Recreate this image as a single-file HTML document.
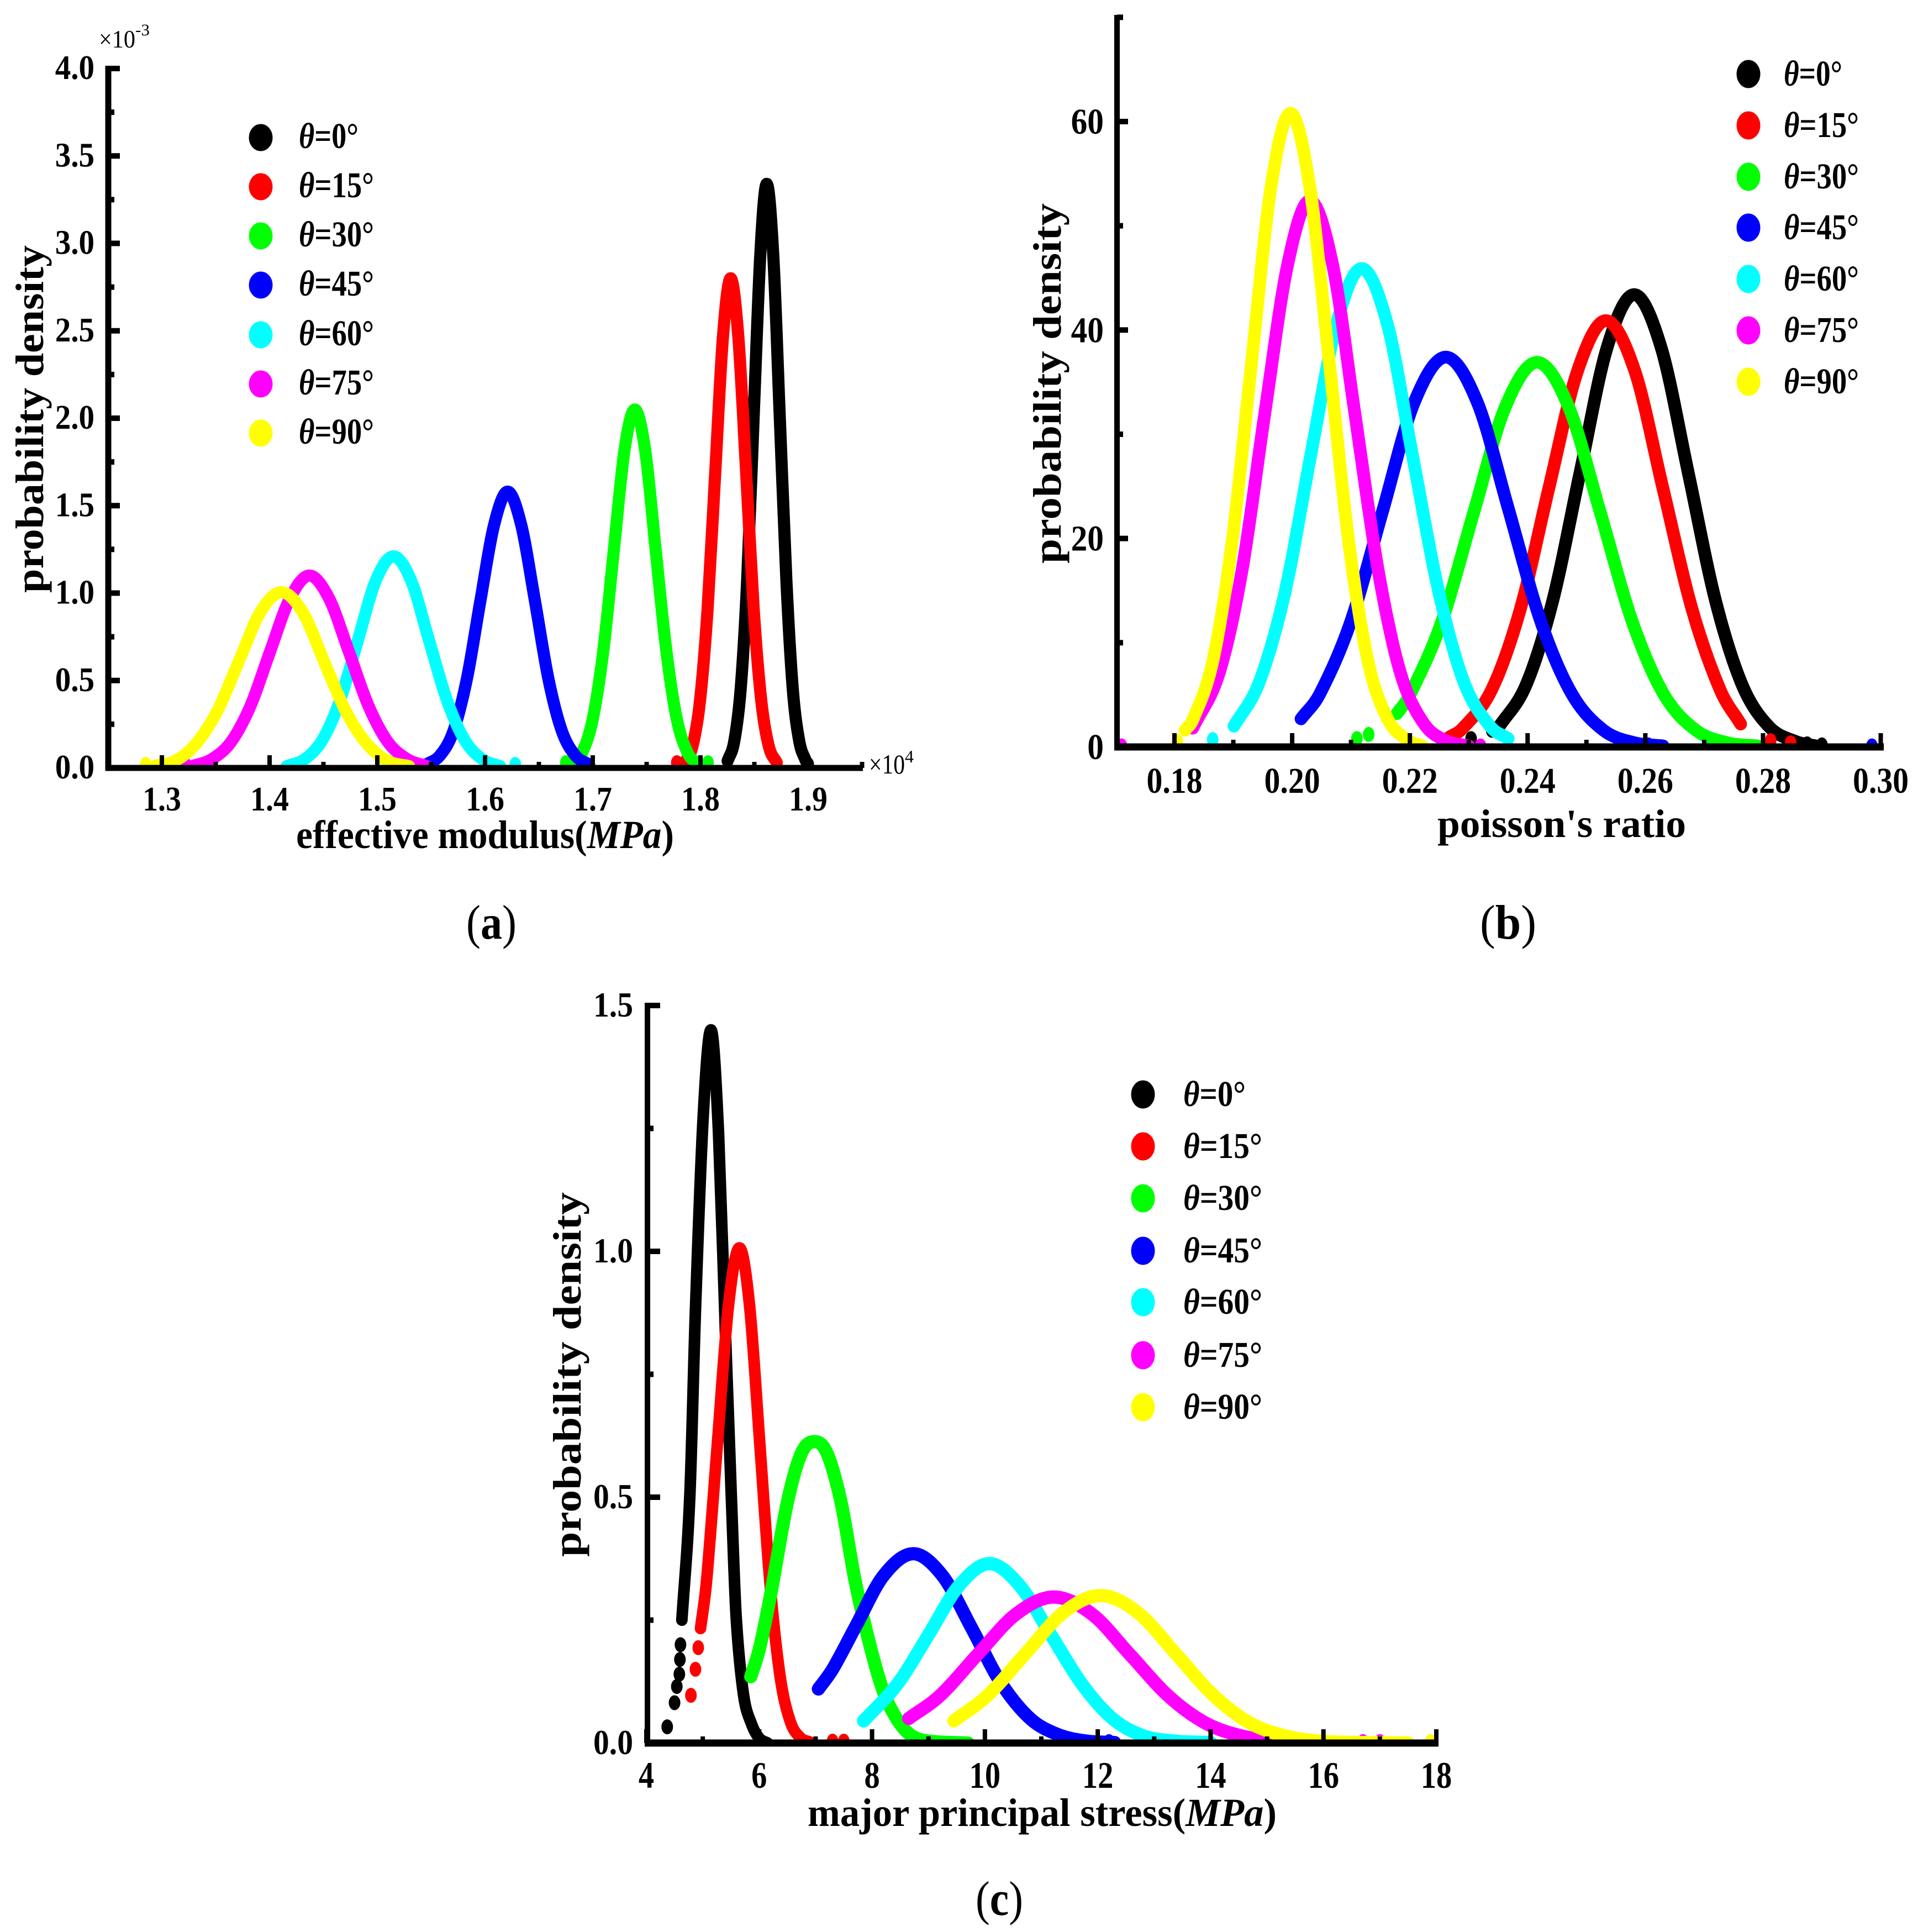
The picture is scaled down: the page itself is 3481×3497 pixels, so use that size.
<!DOCTYPE html>
<html lang="en">
<head>
<meta charset="utf-8">
<title>Probability density curves</title>
<style>
html,body{margin:0;padding:0;background:#fff;}
svg{display:block;font-family:"Liberation Serif",serif;}
text{fill:#000;font-weight:bold;}
.curve{fill:none;stroke-linejoin:round;stroke-linecap:round;}
#panel-a .curve{stroke-width:22;}
#panel-b .curve{stroke-width:23;}
#panel-c .curve{stroke-width:24;}
#panel-c .curve.theta-0,#panel-c .curve.theta-15{stroke-width:21;}
.tail-dot{stroke:none;}
.theta-0{stroke:#000;color:#000;}
.theta-15{stroke:#f00;color:#f00;}
.theta-30{stroke:#0f0;color:#0f0;}
.theta-45{stroke:#00f;color:#00f;}
.theta-60{stroke:#0ff;color:#0ff;}
.theta-75{stroke:#f0f;color:#f0f;}
.theta-90{stroke:#ff0;color:#ff0;}
.tail-dot{fill:currentColor;}
.axis{fill:#000;stroke:none;}
.leg{font-size:66px;transform:translateY(-3px);}
.ti{font-style:italic;}
.axt{font-size:72px;}
.cap{font-size:88px;font-weight:normal;}
.cap tspan{font-weight:bold;}
.sci{font-weight:normal;}
</style>
</head>
<body>
<svg id="figure" xmlns="http://www.w3.org/2000/svg" width="3481" height="3497" viewBox="0 0 3481 3497">
<defs>
<clipPath id="clip-a"><rect x="190" y="0" width="1400" height="1394"/></clipPath>
<clipPath id="clip-b"><rect x="2015" y="0" width="1400" height="1356"/></clipPath>
<clipPath id="clip-c"><rect x="1165" y="1700" width="1445" height="1459"/></clipPath>
</defs>
<rect width="3481" height="3497" fill="#fff"/>
<g id="panel-a"></g>
<g id="panel-b"></g>
<g id="panel-c"></g>

<!-- panel a text -->
<text class="axt" transform="translate(78,1073) rotate(-90)" textLength="629" lengthAdjust="spacingAndGlyphs">probability density</text>
<text class="axt" x="536" y="1535" textLength="684" lengthAdjust="spacingAndGlyphs">effective modulus(<tspan class="ti">MPa</tspan>)</text>
<text class="sci" x="179" y="86" font-size="46" textLength="66" lengthAdjust="spacingAndGlyphs">×10</text>
<text class="sci" x="245" y="64" font-size="30" textLength="26" lengthAdjust="spacingAndGlyphs">-3</text>
<text class="sci" x="1573" y="1400" font-size="50" textLength="65" lengthAdjust="spacingAndGlyphs">×10</text>
<text class="sci" x="1638" y="1380" font-size="32" textLength="16" lengthAdjust="spacingAndGlyphs">4</text>
<text class="cap" x="844" y="1699" textLength="91" lengthAdjust="spacingAndGlyphs">(<tspan>a</tspan>)</text>

<g>
<g><ellipse class="tail-dot theta-0" cx="472" cy="249" rx="21" ry="24"/><text class="leg" x="541" y="271" textLength="108" lengthAdjust="spacingAndGlyphs"><tspan class="ti">θ</tspan>=0°</text></g>
<g><ellipse class="tail-dot theta-15" cx="472" cy="338" rx="21" ry="24"/><text class="leg" x="541" y="360" textLength="136" lengthAdjust="spacingAndGlyphs"><tspan class="ti">θ</tspan>=15°</text></g>
<g><ellipse class="tail-dot theta-30" cx="472" cy="427" rx="21" ry="24"/><text class="leg" x="541" y="449" textLength="136" lengthAdjust="spacingAndGlyphs"><tspan class="ti">θ</tspan>=30°</text></g>
<g><ellipse class="tail-dot theta-45" cx="472" cy="516" rx="21" ry="24"/><text class="leg" x="541" y="538" textLength="136" lengthAdjust="spacingAndGlyphs"><tspan class="ti">θ</tspan>=45°</text></g>
<g><ellipse class="tail-dot theta-60" cx="472" cy="606" rx="21" ry="24"/><text class="leg" x="541" y="628" textLength="136" lengthAdjust="spacingAndGlyphs"><tspan class="ti">θ</tspan>=60°</text></g>
<g><ellipse class="tail-dot theta-75" cx="472" cy="695" rx="21" ry="24"/><text class="leg" x="541" y="717" textLength="136" lengthAdjust="spacingAndGlyphs"><tspan class="ti">θ</tspan>=75°</text></g>
<g><ellipse class="tail-dot theta-90" cx="472" cy="784" rx="21" ry="24"/><text class="leg" x="541" y="806" textLength="136" lengthAdjust="spacingAndGlyphs"><tspan class="ti">θ</tspan>=90°</text></g>
</g>

<!-- panel b text -->
<text class="axt" transform="translate(1920,1020) rotate(-90)" textLength="652" lengthAdjust="spacingAndGlyphs">probability density</text>
<text class="axt" x="2602" y="1515" textLength="450" lengthAdjust="spacingAndGlyphs">poisson's ratio</text>
<text class="cap" x="2679" y="1699" textLength="102" lengthAdjust="spacingAndGlyphs">(<tspan>b</tspan>)</text>

<g>
<g><ellipse class="tail-dot theta-0" cx="3165" cy="134" rx="21" ry="25"/><text class="leg" x="3229" y="158" textLength="106" lengthAdjust="spacingAndGlyphs"><tspan class="ti">θ</tspan>=0°</text></g>
<g><ellipse class="tail-dot theta-15" cx="3165" cy="227" rx="21" ry="25"/><text class="leg" x="3229" y="251" textLength="136" lengthAdjust="spacingAndGlyphs"><tspan class="ti">θ</tspan>=15°</text></g>
<g><ellipse class="tail-dot theta-30" cx="3165" cy="320" rx="21" ry="25"/><text class="leg" x="3229" y="344" textLength="136" lengthAdjust="spacingAndGlyphs"><tspan class="ti">θ</tspan>=30°</text></g>
<g><ellipse class="tail-dot theta-45" cx="3165" cy="412" rx="21" ry="25"/><text class="leg" x="3229" y="436" textLength="136" lengthAdjust="spacingAndGlyphs"><tspan class="ti">θ</tspan>=45°</text></g>
<g><ellipse class="tail-dot theta-60" cx="3165" cy="505" rx="21" ry="25"/><text class="leg" x="3229" y="529" textLength="136" lengthAdjust="spacingAndGlyphs"><tspan class="ti">θ</tspan>=60°</text></g>
<g><ellipse class="tail-dot theta-75" cx="3165" cy="598" rx="21" ry="25"/><text class="leg" x="3229" y="622" textLength="136" lengthAdjust="spacingAndGlyphs"><tspan class="ti">θ</tspan>=75°</text></g>
<g><ellipse class="tail-dot theta-90" cx="3165" cy="691" rx="21" ry="25"/><text class="leg" x="3229" y="715" textLength="136" lengthAdjust="spacingAndGlyphs"><tspan class="ti">θ</tspan>=90°</text></g>
</g>

<!-- panel c text -->
<text class="axt" transform="translate(1051,2818) rotate(-90)" textLength="660" lengthAdjust="spacingAndGlyphs">probability density</text>
<text class="axt" x="1462" y="3305" textLength="849" lengthAdjust="spacingAndGlyphs">major principal stress(<tspan class="ti">MPa</tspan>)</text>
<text class="cap" x="1766" y="3466" textLength="86" lengthAdjust="spacingAndGlyphs">(<tspan>c</tspan>)</text>

<g>
<g><ellipse class="tail-dot theta-0" cx="2069" cy="1981" rx="21" ry="25"/><text class="leg" x="2142" y="2005" textLength="113" lengthAdjust="spacingAndGlyphs"><tspan class="ti">θ</tspan>=0°</text></g>
<g><ellipse class="tail-dot theta-15" cx="2069" cy="2075" rx="21" ry="25"/><text class="leg" x="2142" y="2099" textLength="143" lengthAdjust="spacingAndGlyphs"><tspan class="ti">θ</tspan>=15°</text></g>
<g><ellipse class="tail-dot theta-30" cx="2069" cy="2169" rx="21" ry="25"/><text class="leg" x="2142" y="2193" textLength="143" lengthAdjust="spacingAndGlyphs"><tspan class="ti">θ</tspan>=30°</text></g>
<g><ellipse class="tail-dot theta-45" cx="2069" cy="2264" rx="21" ry="25"/><text class="leg" x="2142" y="2288" textLength="143" lengthAdjust="spacingAndGlyphs"><tspan class="ti">θ</tspan>=45°</text></g>
<g><ellipse class="tail-dot theta-60" cx="2069" cy="2357" rx="21" ry="25"/><text class="leg" x="2142" y="2381" textLength="143" lengthAdjust="spacingAndGlyphs"><tspan class="ti">θ</tspan>=60°</text></g>
<g><ellipse class="tail-dot theta-75" cx="2069" cy="2453" rx="21" ry="25"/><text class="leg" x="2142" y="2477" textLength="143" lengthAdjust="spacingAndGlyphs"><tspan class="ti">θ</tspan>=75°</text></g>
<g><ellipse class="tail-dot theta-90" cx="2069" cy="2547" rx="21" ry="25"/><text class="leg" x="2142" y="2571" textLength="143" lengthAdjust="spacingAndGlyphs"><tspan class="ti">θ</tspan>=90°</text></g>
</g>
</svg>

<script>
// categories
const seriesKeys = ['theta-0','theta-15','theta-30','theta-45','theta-60','theta-75','theta-90'];

// ---- panel (a): effective modulus (x in 1e4 MPa, y in 1e-3) ----
const aX0 = [1.8252,1.8313,1.8373,1.8434,1.8494,1.8555,1.8615,1.8676,1.8736,1.8797,1.8857,1.8918,1.8978];
const aY0 = [.04,.15,.45,1.08,2.01,2.93,3.34,2.93,2.01,1.08,.45,.15,.04];
const aX1 = [1.7853,1.7924,1.7995,1.8066,1.8138,1.8209,1.828,1.8351,1.8423,1.8494,1.8565,1.8636,1.8708];
const aY1 = [.03,.12,.38,.91,1.70,2.47,2.80,2.47,1.70,.91,.38,.12,.03];
const aX2 = [1.6805,1.6903,1.70,1.7098,1.7195,1.7293,1.739,1.7488,1.7585,1.7683,1.778,1.7878,1.7975];
const aY2 = [.02,.09,.28,.67,1.24,1.81,2.05,1.81,1.24,.67,.28,.09,.02];
const aX3 = [1.5454,1.558,1.5706,1.5832,1.5958,1.6084,1.621,1.6336,1.6462,1.6588,1.6714,1.684,1.6966];
const aY3 = [.02,.07,.21,.51,.96,1.39,1.58,1.39,.96,.51,.21,.07,.02];
const aX4 = [1.416,1.4325,1.449,1.4655,1.482,1.4985,1.515,1.5315,1.548,1.5645,1.581,1.5975,1.614];
const aY4 = [.01,.05,.16,.39,.73,1.07,1.21,1.07,.73,.39,.16,.05,.01];
const aX5 = [1.3281,1.3463,1.3644,1.3826,1.4007,1.4189,1.437,1.4552,1.4733,1.4915,1.5096,1.5278,1.5459];
const aY5 = [.01,.05,.15,.36,.67,.97,1.10,.97,.67,.36,.15,.05,.01];
const aX6 = [1.2925,1.3123,1.332,1.3518,1.3715,1.3913,1.411,1.4308,1.4505,1.4703,1.49,1.5098,1.5295];
const aY6 = [.01,.04,.14,.33,.61,.89,1.005,.89,.61,.33,.14,.04,.01];
const aTailX = [[1.9],[1.778],[1.675,1.807],[],[1.628],[1.322],[1.285]];
const aTailY = [[.02],[.03],[.03,.03],[],[.02],[.02],[.02]];
const aXMajor = [1.3,1.4,1.5,1.6,1.7,1.8,1.9];
const aXMajorLabels = ['1.3','1.4','1.5','1.6','1.7','1.8','1.9'];
const aXMinor = [1.35,1.45,1.55,1.65,1.75,1.85,1.95];
const aYMajor = [0,.5,1,1.5,2,2.5,3,3.5,4];
const aYMajorLabels = ['0.0','0.5','1.0','1.5','2.0','2.5','3.0','3.5','4.0'];
const aYMinor = [.25,.75,1.25,1.75,2.25,2.75,3.25,3.75];

// ---- panel (b): poisson's ratio ----
const bX0 = [.2351,.2397,.2443,.2489,.2535,.2581,.2627,.2673,.2719,.2765,.2811,.2857,.289];
const bY0 = [1.9,5.9,14.1,26.3,38.3,43.4,38.3,26.3,14.1,5.9,1.9,.5,.1];
const bX1 = [.2266,.229,.2339,.2388,.2436,.2485,.2533,.2582,.263,.2679,.2727,.2762];
const bY1 = [.9,1.8,5.5,13.3,24.8,36.1,40.9,36.1,24.8,13.3,5.5,2.2];
const bX2 = [.2178,.22,.2254,.2308,.2362,.2416,.247,.2524,.2578,.2632,.2686,.274,.279];
const bY2 = [3.2,5,12,22.4,32.6,36.9,32.6,22.4,12,5,1.6,.4,.1];
const bX3 = [.2015,.2047,.21,.2154,.2207,.2261,.2315,.2368,.2422,.2475,.2529,.2582,.263];
const bY3 = [2.7,5.1,12.1,22.7,33,37.4,33,22.7,12.1,5.1,1.6,.4,.1];
const bX4 = [.1901,.1944,.1988,.2031,.2075,.2118,.2162,.2205,.2249,.2292,.2336,.2367];
const bY4 = [2,6.2,14.9,27.8,40.5,45.9,40.5,27.8,14.9,6.2,2,.8];
const bX5 = [.1831,.1876,.1915,.1953,.1992,.203,.2069,.2107,.2146,.2184,.2223,.2261,.23];
const bY5 = [1.8,7.1,17,31.8,46.2,52.4,46.2,31.8,17,7.1,2.3,.6,.1];
const bX6 = [.1818,.1832,.1865,.1898,.1931,.1964,.1997,.203,.2063,.2096,.2129,.2162,.2195,.222];
const bY6 = [1.6,2.7,8.2,19.7,36.9,53.7,60.8,53.7,36.9,19.7,8.2,2.7,.7,.1];
const bTailX = [[.2304,.2339,.2875,.29],[.2813,.2847],[.211,.213],[.2605,.2985],[.1865],[.171,.232],[.1805]];
const bTailY = [[.8,1.6,.3,.2],[.6,.4],[.8,1.2],[.2,.1],[.7],[.1,.1],[.5]];
const bXMajor = [.18,.20,.22,.24,.26,.28,.30];
const bXMajorLabels = ['0.18','0.20','0.22','0.24','0.26','0.28','0.30'];
const bXMinor = [.19,.21,.23,.25,.27,.29];
const bYMajor = [0,20,40,60];
const bYMajorLabels = ['0','20','40','60'];
const bYMinor = [10,30,50,70];

// ---- panel (c): major principal stress ----
const cX0 = [4.63,4.77,4.87,5.01,5.15,5.28,5.40,5.51,5.59,5.72,5.86,6.0,6.15];
const cY0 = [.25,.5,.88,1.28,1.45,1.24,.84,.49,.26,.10,.04,.01,0];
const cX1 = [4.96,5.065,5.26,5.455,5.65,5.83,6.01,6.19,6.37,6.55,6.73,6.9];
const cY1 = [.233,.327,.61,.889,1.007,.889,.61,.327,.136,.044,.011,.002];
const cX2 = [5.85,6.0,6.2,6.5,6.75,6.98,7.2,7.45,7.7,7.96,8.2,8.45,8.7,9.0,9.7];
const cY2 = [.135,.19,.30,.49,.59,.613,.59,.49,.33,.20,.105,.047,.015,.004,0];
const cX3 = [7.05,7.3,7.7,8.2,8.73,9.25,9.76,10.27,10.8,11.3,11.8,12.3];
const cY3 = [.11,.15,.235,.34,.385,.34,.235,.125,.05,.017,.004,.001];
const cX4 = [7.85,8.45,9.0,9.54,10.08,10.62,11.17,11.72,12.26,12.8,13.35,14.0];
const cY4 = [.045,.12,.22,.32,.365,.32,.22,.12,.05,.015,.004,.001];
const cX5 = [8.65,9.2,9.87,10.55,11.22,11.9,12.57,13.25,13.92,14.6,15.27,16.0];
const cY5 = [.05,.096,.18,.262,.297,.262,.18,.096,.04,.013,.003,.001];
const cX6 = [9.45,10.05,10.72,11.385,12.05,12.715,13.38,14.05,14.71,15.375,16.04,16.8,17.5];
const cY6 = [.045,.097,.182,.265,.30,.265,.182,.097,.04,.013,.003,.001,0];
const cTailX = [[4.37,4.5,4.54,4.585,4.595,4.605],[4.79,4.87,4.92,7.3,7.5],[],[12.2],[],[16.7,17],[17.9]];
const cTailY = [[.033,.082,.115,.14,.17,.2],[.097,.15,.194,.004,.004],[],[.003],[],[.003,.003],[.003]];
const cXMajor = [4,6,8,10,12,14,16,18];
const cXMajorLabels = ['4','6','8','10','12','14','16','18'];
const cXMinor = [5,7,9,11,13,15,17];
const cYMajor = [0,.5,1,1.5];
const cYMajorLabels = ['0.0','0.5','1.0','1.5'];
const cYMinor = [.25,.75,1.25];

const NS = 'http://www.w3.org/2000/svg';
function linear(d0,d1,r0,r1){ return v => r0 + (v-d0)*(r1-r0)/(d1-d0); }
function mk(tag,parent){ const n=document.createElementNS(NS,tag); parent.appendChild(n); return n; }
function set(n,attrs){ for(const k in attrs) n.setAttribute(k,attrs[k]); return n; }

// Smooth cubic path through the data points, tangents weighted by x-spacing
function smoothPath(px,py){
  const n=px.length, m=[];
  for(let i=0;i<n;i++){
    const a=Math.max(0,i-1), b=Math.min(n-1,i+1);
    m.push((py[b]-py[a])/(px[b]-px[a]));
  }
  let d='M'+px[0].toFixed(1)+' '+py[0].toFixed(1);
  for(let i=0;i<n-1;i++){
    const dx=(px[i+1]-px[i])/3;
    d+=' C'+(px[i]+dx).toFixed(1)+' '+(py[i]+m[i]*dx).toFixed(1)+' '+(px[i+1]-dx).toFixed(1)+' '+(py[i+1]-m[i+1]*dx).toFixed(1)+' '+px[i+1].toFixed(1)+' '+py[i+1].toFixed(1);
  }
  return d;
}
function naturalWidth(label,size){
  let w=0; for(const ch of label) w+=(ch==='.'?0.25:0.5)*size; return w;
}

function drawPanel(id,cfg){
  const root=document.getElementById(id);
  const sx=cfg.sx, sy=cfg.sy;

  const curves=mk('g',root);
  curves.setAttribute('clip-path','url(#'+cfg.clip+')');
  
  

  seriesKeys.forEach((key,i)=>{
    const p=mk('path',curves);
    p.setAttribute('class','curve '+key);
    p.setAttribute('d',smoothPath(cfg.xs[i].map(sx),cfg.ys[i].map(sy)));
    
    
    cfg.tailX[i].forEach((tx,j)=>{
      const c=mk('ellipse',curves);
      c.setAttribute('class','tail-dot '+key);
      set(c,{cx:sx(tx),cy:sy(cfg.tailY[i][j]),rx:10,ry:13});
      
      
    });
  });

  const axes=mk('g',root);
  
  

  const ySpine=mk('rect',axes);
  ySpine.setAttribute('class','axis');
  set(ySpine,{x:cfg.spineX-cfg.spineW/2,y:cfg.spineTop,width:cfg.spineW,height:cfg.axisY-cfg.spineTop+5});
  
  

  const xSpine=mk('rect',axes);
  xSpine.setAttribute('class','axis');
  set(xSpine,{x:cfg.axisLeft,y:cfg.axisY-cfg.axisH/2,width:cfg.axisRight-cfg.axisLeft,height:cfg.axisH});
  
  

  cfg.xMajor.forEach((v,i)=>{
    const t=mk('rect',axes);
    t.setAttribute('class','axis');
    set(t,{x:sx(v)-4,y:cfg.axisY-cfg.xMajorLen,width:8,height:cfg.xMajorLen});
    
    
    const lab=mk('text',axes);
    const w=naturalWidth(cfg.xLabels[i],cfg.xFont)*cfg.xStretch;
    set(lab,{x:sx(v)-w/2,y:cfg.xLabelY,'font-size':cfg.xFont,textLength:w,lengthAdjust:'spacingAndGlyphs'});
    lab.textContent=cfg.xLabels[i];
    
    
  });
  cfg.xMinor.forEach(v=>{
    const t=mk('rect',axes);
    t.setAttribute('class','axis');
    set(t,{x:sx(v)-4,y:cfg.axisY-cfg.xMinorLen,width:8,height:cfg.xMinorLen});
    
    
  });
  cfg.yMajor.forEach((v,i)=>{
    const t=mk('rect',axes);
    t.setAttribute('class','axis');
    set(t,{x:cfg.spineX,y:sy(v)-5,width:cfg.yMajorLen,height:10});
    
    
    const lab=mk('text',axes);
    const w=naturalWidth(cfg.yLabels[i],cfg.yFont)*cfg.yStretch;
    set(lab,{x:cfg.yLabelRight-w,y:sy(v)+cfg.yLabelDy,'font-size':cfg.yFont,textLength:w,lengthAdjust:'spacingAndGlyphs'});
    lab.textContent=cfg.yLabels[i];
    
    
  });
  cfg.yMinor.forEach(v=>{
    const t=mk('rect',axes);
    t.setAttribute('class','axis');
    set(t,{x:cfg.spineX,y:sy(v)-5,width:cfg.yMinorLen,height:10});
    
    
  });
}

drawPanel('panel-a',{
  sx:linear(1.3,1.9,293,1463), sy:linear(0,4,1390,124), clip:'clip-a',
  xs:[aX0,aX1,aX2,aX3,aX4,aX5,aX6], ys:[aY0,aY1,aY2,aY3,aY4,aY5,aY6],
  tailX:aTailX, tailY:aTailY,
  xMajor:aXMajor, xLabels:aXMajorLabels, xMinor:aXMinor,
  yMajor:aYMajor, yLabels:aYMajorLabels, yMinor:aYMinor,
  spineX:196, spineW:11, spineTop:119, axisY:1390, axisH:11, axisLeft:191, axisRight:1562,
  xMajorLen:23, xMinorLen:11, yMajorLen:21, yMinorLen:11,
  xFont:62, xStretch:.9, xLabelY:1467, yFont:62, yStretch:.92, yLabelRight:171, yLabelDy:19
});
drawPanel('panel-b',{
  sx:linear(.18,.30,2126,3404.5), sy:linear(0,60,1352,220), clip:'clip-b',
  xs:[bX0,bX1,bX2,bX3,bX4,bX5,bX6], ys:[bY0,bY1,bY2,bY3,bY4,bY5,bY6],
  tailX:bTailX, tailY:bTailY,
  xMajor:bXMajor, xLabels:bXMajorLabels, xMinor:bXMinor,
  yMajor:bYMajor, yLabels:bYMajorLabels, yMinor:bYMinor,
  spineX:2022, spineW:10, spineTop:27, axisY:1352, axisH:13, axisLeft:2017, axisRight:3410,
  xMajorLen:25, xMinorLen:13, yMajorLen:20, yMinorLen:11,
  xFont:66, xStretch:.875, xLabelY:1435, yFont:66, yStretch:.9, yLabelRight:1998, yLabelDy:22
});
drawPanel('panel-c',{
  sx:linear(4,18,1170,2600), sy:linear(0,1.5,3155,1820), clip:'clip-c',
  xs:[cX0,cX1,cX2,cX3,cX4,cX5,cX6], ys:[cY0,cY1,cY2,cY3,cY4,cY5,cY6],
  tailX:cTailX, tailY:cTailY,
  xMajor:cXMajor, xLabels:cXMajorLabels, xMinor:cXMinor,
  yMajor:cYMajor, yLabels:cYMajorLabels, yMinor:cYMinor,
  spineX:1172, spineW:10, spineTop:1815, axisY:3155, axisH:13, axisLeft:1167, axisRight:2604,
  xMajorLen:25, xMinorLen:12, yMajorLen:23, yMinorLen:11,
  xFont:68, xStretch:.83, xLabelY:3236, yFont:64, yStretch:.9, yLabelRight:1146, yLabelDy:20
});
</script>
</body>
</html>
